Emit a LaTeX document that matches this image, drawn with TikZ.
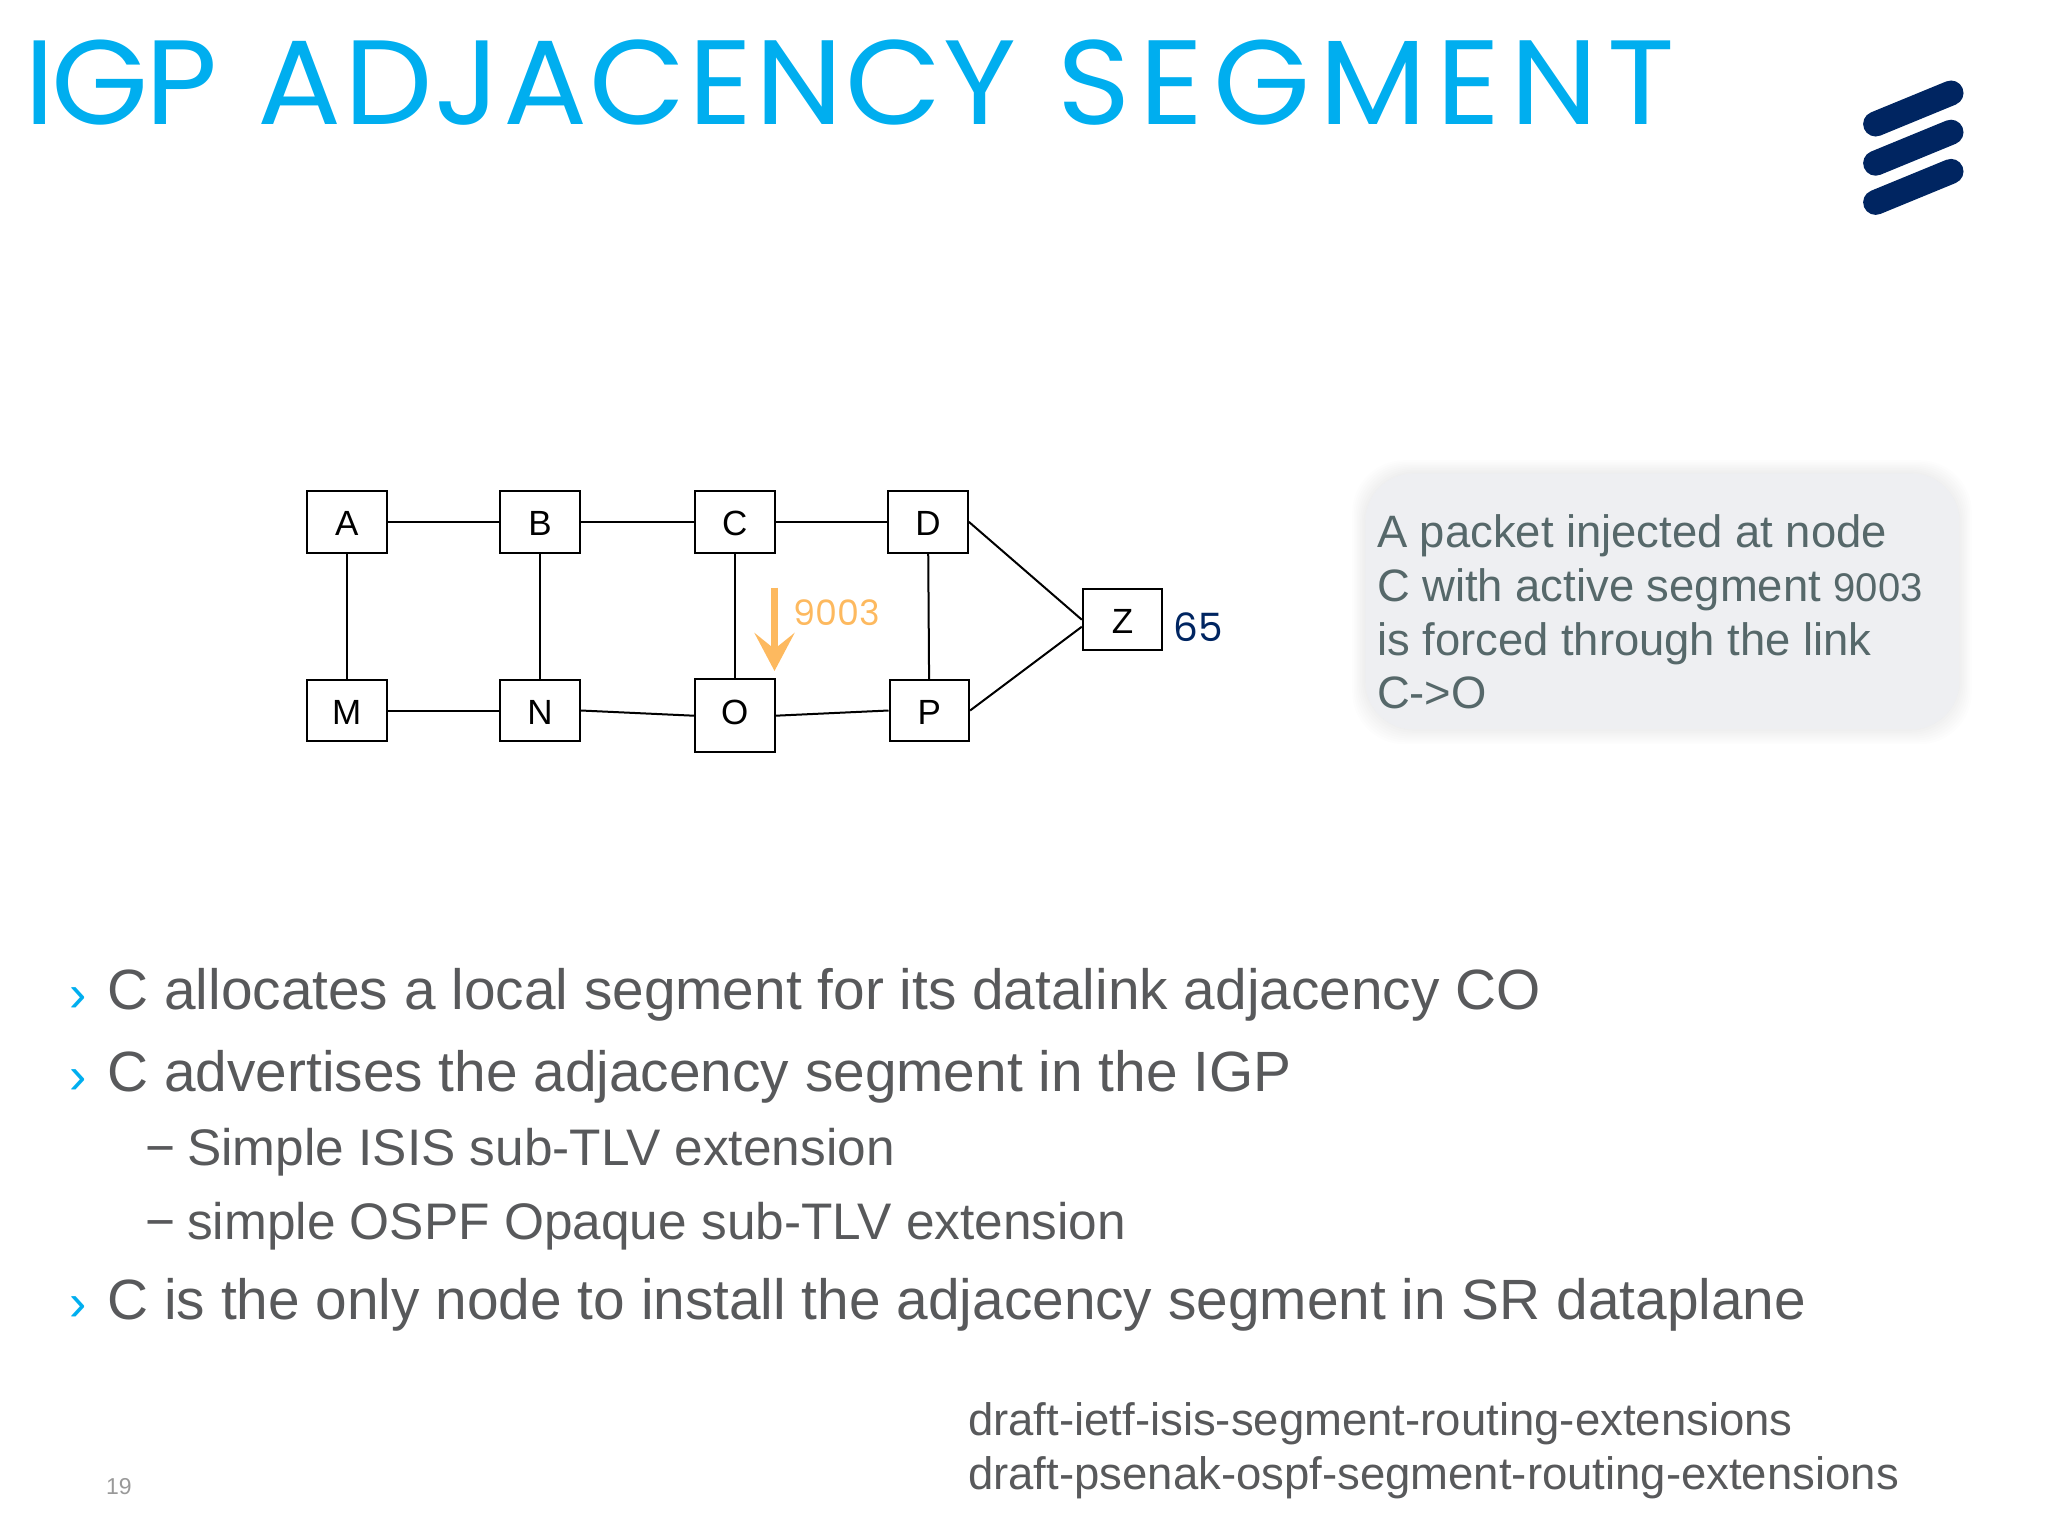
\documentclass[tikz,border=0pt]{standalone}
\usepackage{fontspec}
\setmainfont{Liberation Sans}
\newfontfamily\titlefont{Poppins}
\newfontfamily\headfont[LetterSpace=6,FakeStretch=1.04,WordSpace=1]{Poppins}
\newcommand{\headword}[2]{{\addfontfeature{LetterSpace=#1}#2}}
\usetikzlibrary{arrows.meta}
\definecolor{ericblue}{HTML}{00AEEF}
\definecolor{ericnavy}{HTML}{002561}
\definecolor{bodygray}{HTML}{58595B}
\definecolor{calloutgray}{HTML}{56686A}
\definecolor{calloutfill}{HTML}{EEEFF2}
\definecolor{segorange}{HTML}{FDB95F}
\tikzset{
  routerbox/.style={draw=black,line width=1pt,fill=white,minimum width=39.8,minimum height=30.7,inner sep=0pt,text height=14pt,text depth=0pt,font=\fontsize{17.5}{20}\selectfont},
  bodyline/.style={anchor=base west,inner sep=0pt,text=bodygray,font=\fontsize{28.4}{32}\selectfont},
  subline/.style={anchor=base west,inner sep=0pt,text=bodygray,font=\fontsize{25.7}{29}\selectfont},
  draftline/.style={anchor=base west,inner sep=0pt,text=bodygray,font=\fontsize{22.75}{26}\selectfont},
  bulletmark/.style={anchor=base west,inner sep=0pt,text=ericblue,font=\fontsize{26}{30}\selectfont},
  logobar/.style={ericnavy,line width=12.5,line cap=round},
}
\begin{document}
\begin{tikzpicture}[x=.5pt,y=-.5pt]
      \useasboundingbox (0,0) rectangle (2048,1536);

      \node[anchor=base west,inner sep=0pt,text=ericblue,font=\headfont\fontsize{60}{70}\selectfont] (title) at (24,124.1)
        {\headword{-3}{IGP} \headword{2}{ADJACENCY} \headword{7.8}{SEGMENT}};

      % logo
      \coordinate (l1a) at (1875.6,124);
      \coordinate (l1b) at (1951,93);
      \coordinate (l2a) at (1875.6,163.2);
      \coordinate (l2b) at (1951,132.2);
      \coordinate (l3a) at (1875.6,202.4);
      \coordinate (l3b) at (1951,171.4);
      \draw[logobar] (l1a) -- (l1b);
      \draw[logobar] (l2a) -- (l2b);
      \draw[logobar] (l3a) -- (l3b);

      \begin{scope}[every node/.style={routerbox}]
        \node (A) at (346.8,521.8) {A};
        \node (B) at (540.1,521.8) {B};
        \node (C) at (734.7,521.8) {C};
        \node (D) at (928,521.8)   {D};
        \node (M) at (346.8,710.5) {M};
        \node (N) at (540.1,710.5) {N};
        \node[minimum height=36.5,text height=9pt] (O) at (734.7,715.7) {O};
        \node (P) at (929.3,710.5) {P};
        \node (Z) at (1122.6,619.7) {Z};
      \end{scope}

      \begin{scope}[every edge/.style={draw,line width=1pt}]
        \path (A) edge (B);
        \path (B) edge (C);
        \path (C) edge (D);
        \path (M) edge (N);
        \path (A) edge (M);
        \path (B) edge (N);
        \path (C) edge (O);
        \path (D) edge (P);
        \path (N.east) edge (O.west);
        \path (O.east) edge (P.west);
        \path (D.east) edge (Z.west);
        \path (P.east) edge ([yshift=-3.5pt]Z.west);
      \end{scope}

      \coordinate (segtop) at (774.5,587.7);
      \coordinate (segend) at (774.5,671);
      \draw[segorange,line width=3.5pt,-{Stealth[length=19,width=20,inset=8]}] (segtop) -- (segend);
      \node[anchor=base west,inner sep=0pt,text=segorange,font=\titlefont\fontsize{17.5}{20}\selectfont] (seglabel) at (792.8,625.6) {9003};
      \node[anchor=base west,inner sep=0pt,text=ericnavy,font=\titlefont\fontsize{19.5}{22}\selectfont] (zlabel) at (1173,641.3) {65};

      % callout with soft shadow
      \foreach \g in {1,...,8}
        \fill[black,opacity=.009,rounded corners=26] (1365-\g*1.6,473-\g*1.6) rectangle (1959+\g*1.6,729+\g*1.9);
      \node[anchor=north west,fill=calloutfill,rounded corners=24,minimum width=297,minimum height=128,inner sep=0pt] (callout) at (1365,473) {};
      \node[anchor=base west,inner sep=0pt,align=left,text=calloutgray,font=\fontsize{22.7}{26.8}\selectfont] (callouttext) at (1376.6,708.6)
        {A packet injected at node\\C with active segment {\fontsize{20}{26.8}\selectfont 9003}\\is forced through the link\\C->O};

      \node[bulletmark] (b1) at (69.2,1011) {›};
      \node[bulletmark] (b2) at (69.2,1093.3) {›};
      \node[bulletmark] (b3) at (69.2,1320.6) {›};
      \node[subline] (d1) at (145,1165.1) {−};
      \node[subline] (d2) at (145,1239.5) {−};

      \node[bodyline] (t1) at (107.1,1009.6) {C allocates a local segment for its datalink adjacency CO};
      \node[bodyline] (t2) at (107.1,1091.9) {C advertises the adjacency segment in the IGP};
      \node[subline]  (t3) at (186.8,1165.1) {Simple ISIS sub-TLV extension};
      \node[subline]  (t4) at (186.8,1239.5) {simple OSPF Opaque sub-TLV extension};
      \node[bodyline] (t5) at (107.1,1319.2) {C is the only node to install the adjacency segment in SR dataplane};

      \node[draftline] (r1) at (967.8,1435.4) {draft-ietf-isis-segment-routing-extensions};
      \node[draftline] (r2) at (967.8,1489) {draft-psenak-ospf-segment-routing-extensions};

      \node[anchor=base west,inner sep=0pt,text=black!40,font=\fontsize{11.5}{14}\selectfont] (pageno) at (105.8,1494.2) {19};

    \end{tikzpicture}
\end{document}
